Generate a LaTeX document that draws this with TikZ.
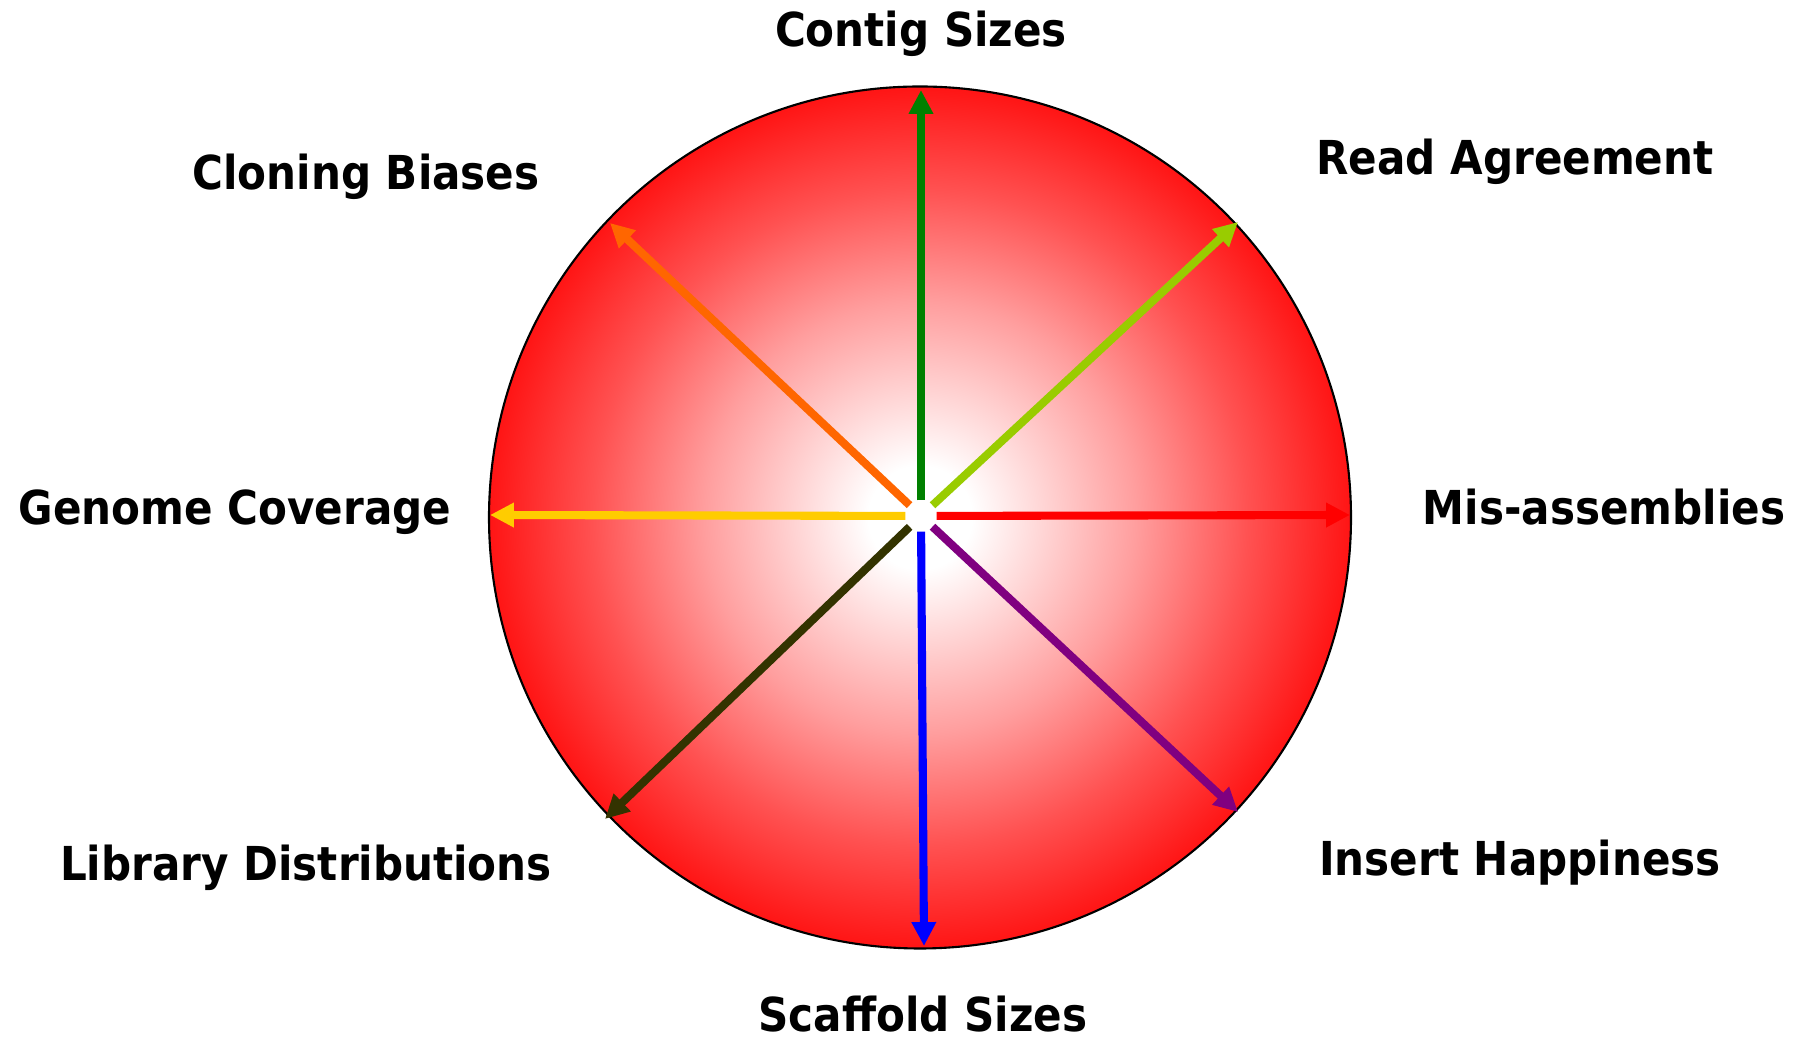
\documentclass[tikz,border=0pt]{standalone}
\usepackage{fontspec}
\newfontfamily\labelfont{DejaVu Sans Bold}[FakeStretch=0.9]
\usetikzlibrary{arrows.meta}

\definecolor{contiggreen}{HTML}{008000}
\definecolor{readgreen}{HTML}{99CC00}
\definecolor{misred}{HTML}{FF0000}
\definecolor{insertpurple}{HTML}{800080}
\definecolor{scaffoldblue}{HTML}{0000FF}
\definecolor{libraryolive}{HTML}{333300}
\definecolor{genomeyellow}{HTML}{FFCC00}
\definecolor{cloningorange}{HTML}{FF6600}

% white centre fading out to red at the rim
\pgfdeclareradialshading{discshade}{\pgfpointorigin}{%
    color(0bp)=(white); color(3bp)=(white);
    color(12.5bp)=(red!38); color(19bp)=(red!68);
    color(25bp)=(red!92); color(50bp)=(red!92)}

\begin{document}
\begin{tikzpicture}[
    x=0.01cm,y=0.01cm,
    spoke/.style={
        line width=2.3pt,
        -{Triangle[length=6.8pt,width=6.6pt]}
    },
    axislabel/.style={
        font=\labelfont\fontsize{13.3}{16}\selectfont,
        anchor=base,
        inner sep=0pt
    },
    hubdot/.style={circle,inner sep=0pt,minimum size=0.3cm}
]
\useasboundingbox (0,0) rectangle (1803,1037);

% ------------------------------------------------
% Shaded disc
% ------------------------------------------------
\coordinate (mid) at (920,519.5);
\shade[shading=discshade] (mid) circle (431);
\draw[line width=0.6pt] (mid) circle (431);

% ------------------------------------------------
% Hub and arrow tips on the rim
% ------------------------------------------------
\node[hubdot] (hub) at (921,521) {};

\coordinate (tC) at (921,947);
\coordinate (tR) at (1238,815);
\coordinate (tM) at (1350,522);
\coordinate (tI) at (1238,225);
\coordinate (tS) at (924,91);
\coordinate (tL) at (605,218);
\coordinate (tG) at (490,522);
\coordinate (tB) at (610,814);

\foreach \T/\C in {tC/contiggreen,tR/readgreen,tM/misred,tI/insertpurple,
                   tS/scaffoldblue,tL/libraryolive,tG/genomeyellow,tB/cloningorange}
    \draw[spoke,\C] (hub) -- (\T);

% ------------------------------------------------
% Labels
% ------------------------------------------------
\node[axislabel] (contig)   at (921,990)  {Contig Sizes};
\node[axislabel] (read)     at (1515,862) {Read Agreement};
\node[axislabel] (mis)      at (1604,512) {Mis-assemblies};
\node[axislabel] (insert)   at (1520,161) {Insert Happiness};
\node[axislabel] (scaffold) at (923,5)    {Scaffold Sizes};
\node[axislabel] (library)  at (306,156)  {Library Distributions};
\node[axislabel] (genome)   at (235,512)  {Genome Coverage};
\node[axislabel] (cloning)  at (366,847)  {Cloning Biases};

\end{tikzpicture}
\end{document}
